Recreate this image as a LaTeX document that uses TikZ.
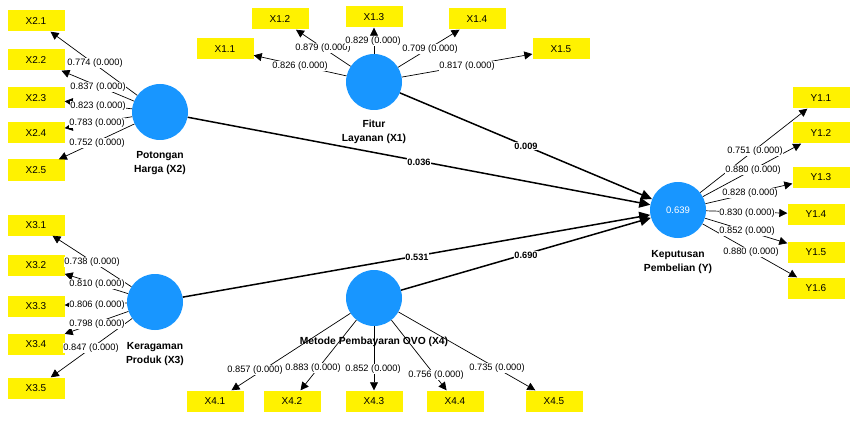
\documentclass[tikz,border=0pt]{standalone}
\usepackage{fontspec}
\setmainfont{Liberation Sans}
\usetikzlibrary{arrows.meta}
\definecolor{lvblue}{RGB}{24,150,255}
\begin{document}
\begin{tikzpicture}[x=1pt,y=-1pt,
 lv/.style={circle,fill=lvblue,minimum size=56pt,inner sep=0pt},
 ind/.style={fill=yellow,minimum width=57pt,minimum height=21pt,inner sep=0pt,font=\fontsize{10}{11}\selectfont},
 load/.style={-{Triangle[length=8pt,width=8pt]},line width=0.7pt},
 struct/.style={-{Triangle[length=11pt,width=10pt]},line width=1.5pt},
 lab/.style={fill=white,inner sep=0.5pt,font=\fontsize{9.3}{10}\selectfont},
 plab/.style={fill=white,inner sep=0.8pt,font=\bfseries\fontsize{9.2}{10}\selectfont},
 cname/.style={align=center,font=\bfseries\fontsize{10.3}{14.5}\selectfont,inner sep=0pt}]
\useasboundingbox (0,0) rectangle (858,422);

% latent variables
\node[lv] (X1) at (374,82) {};
\node[lv] (X2) at (160,112) {};
\node[lv] (X3) at (155,302) {};
\node[lv] (X4) at (374,298) {};
\node[lv,text=white,font=\fontsize{9.5}{10}\selectfont] (Y) at (678,210) {0.639};

% construct names
\node[cname] (tX1) at (374,132) {Fitur\\Layanan (X1)};
\node[cname] (tX2) at (160,163) {Potongan\\Harga (X2)};
\node[cname] (tX3) at (155,354) {Keragaman\\Produk (X3)};
\node[cname] (tX4) at (374,342) {Metode Pembayaran OVO (X4)};
\node[cname] (tY) at (678,262) {Keputusan\\Pembelian (Y)};

% indicators
\node[ind] (x11) at (225,49) {X1.1};
\node[ind] (x12) at (280,19) {X1.2};
\node[ind] (x13) at (374,17) {X1.3};
\node[ind] (x14) at (477,19) {X1.4};
\node[ind] (x15) at (561,49) {X1.5};

\node[ind] (x21) at (36,21) {X2.1};
\node[ind] (x22) at (36,60) {X2.2};
\node[ind] (x23) at (36,98) {X2.3};
\node[ind] (x24) at (36,133) {X2.4};
\node[ind] (x25) at (36,170) {X2.5};

\node[ind] (x31) at (36,225) {X3.1};
\node[ind] (x32) at (36,265) {X3.2};
\node[ind] (x33) at (36,306) {X3.3};
\node[ind] (x34) at (36,344) {X3.4};
\node[ind] (x35) at (36,388) {X3.5};

\node[ind] (x41) at (215,401) {X4.1};
\node[ind] (x42) at (292,401) {X4.2};
\node[ind] (x43) at (374,401) {X4.3};
\node[ind] (x44) at (455,401) {X4.4};
\node[ind] (x45) at (554,401) {X4.5};

\node[ind] (y11) at (821,98) {Y1.1};
\node[ind] (y12) at (821,133) {Y1.2};
\node[ind] (y13) at (821,177) {Y1.3};
\node[ind] (y14) at (816,214) {Y1.4};
\node[ind] (y15) at (816,252) {Y1.5};
\node[ind] (y16) at (816,288) {Y1.6};

% structural paths
\draw[struct] (X1) -- (Y);
\draw[struct] (X2) -- (Y);
\draw[struct] (X3) -- (Y);
\draw[struct] (X4) -- (Y);

% loadings
\foreach \i in {1,...,5} {
  \draw[load] (X1) -- (x1\i);
  \draw[load] (X2) -- (x2\i);
  \draw[load] (X3) -- (x3\i);
  \draw[load] (X4) -- (x4\i);
}
\foreach \i in {1,...,6} {
  \draw[load] (Y) -- (y1\i);
}

% path coefficient labels
\node[plab] (p1) at (526,146) {0.009};
\node[plab] (p2) at (419,162) {0.036};
\node[plab] (p3) at (417,257) {0.531};
\node[plab] (p4) at (526,255) {0.690};

% loading labels
\node[lab] (l11) at (300,66) {0.826 (0.000)};
\node[lab] (l12) at (323,48) {0.879 (0.000)};
\node[lab] (l13) at (373,41) {0.829 (0.000)};
\node[lab] (l14) at (430,49) {0.709 (0.000)};
\node[lab] (l15) at (467,66) {0.817 (0.000)};

\node[lab] (l21) at (95,63) {0.774 (0.000)};
\node[lab] (l22) at (98,87) {0.837 (0.000)};
\node[lab] (l23) at (98,106) {0.823 (0.000)};
\node[lab] (l24) at (97,123) {0.783 (0.000)};
\node[lab] (l25) at (97,143) {0.752 (0.000)};

\node[lab] (l31) at (92,262) {0.738 (0.000)};
\node[lab] (l32) at (97,284) {0.810 (0.000)};
\node[lab] (l33) at (97,305) {0.806 (0.000)};
\node[lab] (l34) at (97,324) {0.798 (0.000)};
\node[lab] (l35) at (91,348) {0.847 (0.000)};

\node[lab] (l41) at (255,370) {0.857 (0.000)};
\node[lab] (l42) at (313,368) {0.883 (0.000)};
\node[lab] (l43) at (373,369) {0.852 (0.000)};
\node[lab] (l44) at (436,375) {0.756 (0.000)};
\node[lab] (l45) at (497,368) {0.735 (0.000)};

\node[lab] (ly1) at (755,151) {0.751 (0.000)};
\node[lab] (ly2) at (753,170) {0.880 (0.000)};
\node[lab] (ly3) at (750,193) {0.828 (0.000)};
\node[lab] (ly4) at (747,213) {0.830 (0.000)};
\node[lab] (ly5) at (747,231) {0.852 (0.000)};
\node[lab] (ly6) at (751,252) {0.880 (0.000)};
\end{tikzpicture}
\end{document}
